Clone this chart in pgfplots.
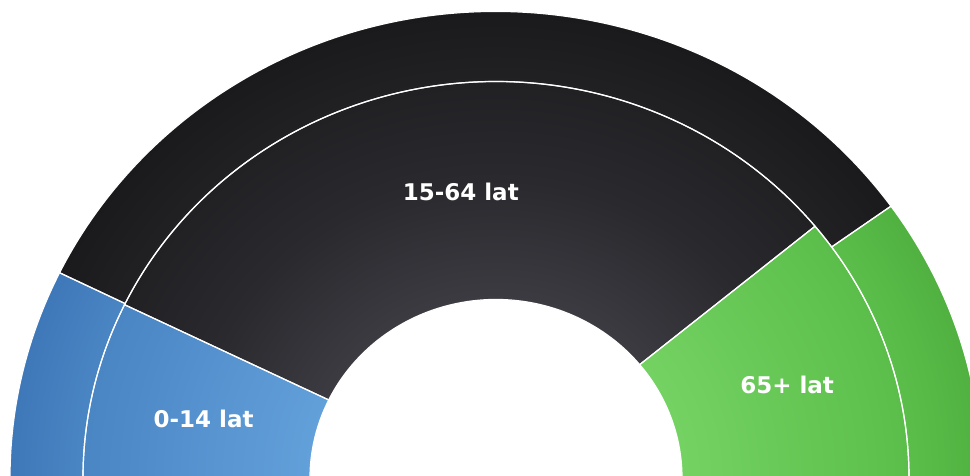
\documentclass[border=0pt]{standalone}
\usepackage{pgfplots}
\pgfplotsset{compat=1.18}
\usepackage{pgfplotstable}
\usepackage{fontspec}
\setmainfont{DejaVu Sans}

\definecolor{blkA}{HTML}{3C3B41}
\definecolor{blkM}{HTML}{2A292E}
\definecolor{blkS}{HTML}{212023}
\definecolor{blkB}{HTML}{1A1A1C}
\definecolor{bluA}{HTML}{62A0DA}
\definecolor{bluS}{HTML}{4A85C4}
\definecolor{bluB}{HTML}{3F78B8}
\definecolor{grnA}{HTML}{74D263}
\definecolor{grnS}{HTML}{5BBE4A}
\definecolor{grnB}{HTML}{50B140}

% radial shadings centred on the chart centre (25bp = outer radius)
\pgfdeclareradialshading{blk}{\pgfpoint{0bp}{0bp}}{color(0bp)=(blkA); color(9.6bp)=(blkA); color(16bp)=(blkM); color(21.2bp)=(blkS); color(25bp)=(blkB); color(50bp)=(blkB)}
\pgfdeclareradialshading{blu}{\pgfpoint{0bp}{0bp}}{color(0bp)=(bluA); color(9.6bp)=(bluA); color(21.2bp)=(bluS); color(25bp)=(bluB); color(50bp)=(bluB)}
\pgfdeclareradialshading{grn}{\pgfpoint{0bp}{0bp}}{color(0bp)=(grnA); color(9.6bp)=(grnA); color(21.2bp)=(grnS); color(25bp)=(grnB); color(50bp)=(grnB)}

% radii in px: hole, ring separator, outer edge
\def\rin{186}\def\rmid{413}\def\rout{486}

% shares in percent, inner ring and outer ring
\pgfplotstableread{
group inner outer
0-14  14.4 14.5
15-64 63.7 65.7
65+   21.9 19.8
}\shares

% annular sector: start angle, end angle, inner r, outer r
\newcommand\sector[4]{(#1:#3pt) arc[start angle=#1, end angle=#2, radius=#3pt]
  -- (#2:#4pt) arc[start angle=#2, end angle=#1, radius=#4pt] -- cycle}

\newcommand\seg[5]{%
  \begin{scope}
    \clip (rel axis cs:0,0) rectangle (rel axis cs:1,1);
    \begin{scope}[shift={(axis cs:496,-3)}, yscale=0.96]
      \clip \sector{#1}{#2}{#3}{#4};
      \shade[shading=#5] (0pt,0pt) circle[radius=\rout pt];
    \end{scope}
  \end{scope}}

\newcommand\segline[4]{%
  \begin{scope}
    \clip (rel axis cs:0,0) rectangle (rel axis cs:1,1);
    \begin{scope}[shift={(axis cs:496,-3)}, yscale=0.96]
      \draw[white, line width=1.2pt] \sector{#1}{#2}{#3}{#4};
    \end{scope}
  \end{scope}}

\begin{document}
\begin{tikzpicture}
\pgfplotstablegetelem{0}{inner}\of\shares \pgfmathsetmacro\ia{180-1.8*\pgfplotsretval}
\pgfplotstablegetelem{2}{inner}\of\shares \pgfmathsetmacro\ib{1.8*\pgfplotsretval}
\pgfplotstablegetelem{0}{outer}\of\shares \pgfmathsetmacro\oa{180-1.8*\pgfplotsretval}
\pgfplotstablegetelem{2}{outer}\of\shares \pgfmathsetmacro\ob{1.8*\pgfplotsretval}
\pgfmathsetmacro\ma{(180+\ia)/2}
\pgfmathsetmacro\mb{(\ia+\ib)/2}
\pgfmathsetmacro\mc{\ib/2}
\begin{axis}[
  x=1pt, y=1pt,
  xmin=0, xmax=970, ymin=0, ymax=475,
  scale only axis,
  hide axis,
]
\pgfplotsextra{%
  % inner ring
  \seg{180}{\ia}{\rin}{\rmid}{blu}
  \seg{\ia}{\ib}{\rin}{\rmid}{blk}
  \seg{\ib}{0}{\rin}{\rmid}{grn}
  % outer ring
  \seg{180}{\oa}{\rmid}{\rout}{blu}
  \seg{\oa}{\ob}{\rmid}{\rout}{blk}
  \seg{\ob}{0}{\rmid}{\rout}{grn}
  % white separators
  \segline{180}{\ia}{\rin}{\rmid}
  \segline{\ia}{\ib}{\rin}{\rmid}
  \segline{\ib}{0}{\rin}{\rmid}
  \segline{180}{\oa}{\rmid}{\rout}
  \segline{\oa}{\ob}{\rmid}{\rout}
  \segline{\ob}{0}{\rmid}{\rout}
  % labels
  \begin{scope}[shift={(axis cs:496,-3)}, yscale=0.96,
      every node/.style={white, font=\fontsize{23}{26}\selectfont\bfseries}]
    \node[yshift=-6pt] at (\ma:300pt) {0-14 lat};
    \node at (\mb:300pt) {15-64 lat};
    \node[yshift=-6pt, xshift=4pt] at (\mc:305pt) {65+ lat};
  \end{scope}
}
\end{axis}
\pgfresetboundingbox
\path[use as bounding box] (current axis.south west) rectangle (current axis.north east);
\end{tikzpicture}
\end{document}
